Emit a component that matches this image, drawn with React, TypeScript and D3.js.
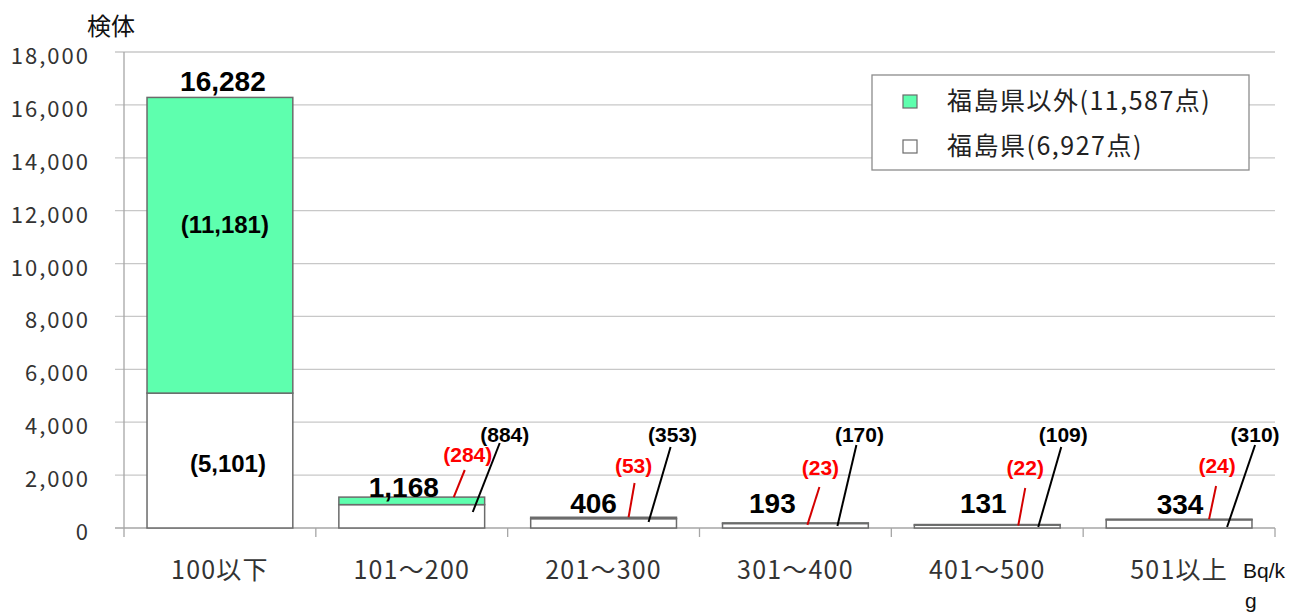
import React from "react";
import * as d3 from "d3";

// ---- data ----
const categories = ["100以下", "101～200", "201～300", "301～400", "401～500", "501以上"];
const fukushima = [5101, 884, 353, 170, 109, 310];
const otherPref = [11181, 284, 53, 23, 22, 24];
const yTicks = [0, 2000, 4000, 6000, 8000, 10000, 12000, 14000, 16000, 18000];
const legendLabels = ["福島県以外(11,587点)", "福島県(6,927点)"];
const yAxisTitle = "検体";
const unitLabel = ["Bq/k", "g"];

// ---- layout (pixel offsets for hand-placed annotations) ----
const totalDx = [3, -8, -10, -23, -4, 1];
const totalBase = [-6, 0, -15, -15, -15, -14]; // idx0,1 relative to bar top; others relative to y(0)
const redLead = [null, [42, 0, 53, -58], [25, 0, 31, -45], [12, 2, 24, -41], [31, 1, 38, -40], [30, 0, 37, -42]];
const redLab = [null, [56, -66], [30, -55], [25, -53], [38, -53], [38, -55]];
const blkLead = [null, [61, -16, 88, -85], [45, -6, 67, -81], [42, -2, 61, -83], [51, -1, 74, -81], [48, -1, 76, -83]];
const blkLab = [null, [93, -86], [69, -86], [64, -86], [76, -86], [76, -86]];

const W = 1309;
const H = 613;
const left = 124;
const right = 1275;
const top = 52;
const bottom = 528;
const GREEN = "#5effae";
const FONT = "'Noto Sans CJK JP', 'Noto Sans', sans-serif";
const BOLD = "'Liberation Sans', Arial, sans-serif";

export default function App() {
  const x = d3.scaleBand<string>().domain(categories).range([left, right]).paddingInner(0.24).paddingOuter(0.12);
  const y = d3.scaleLinear().domain([0, 18000]).range([bottom, top]);
  const step = x.step();
  const totals = categories.map((_, i) => fukushima[i] + otherPref[i]);
  const fmt = d3.format(",");

  return (
    <svg width={W} height={H} style={{ position: "absolute", left: 0, top: 0 }}>
      <rect x={0} y={0} width={W} height={H} fill="#fff" />
      {yTicks.map((t) => (
        <line key={"g" + t} x1={left - 9} x2={right} y1={y(t)} y2={y(t)} stroke={t === 0 ? "#a6a6a6" : "#c8c8c8"} strokeWidth={1.3} />
      ))}
      <line x1={left} x2={left} y1={y(18000)} y2={y(0)} stroke="#a6a6a6" strokeWidth={1.3} />
      {d3.range(categories.length + 1).map((i) => (
        <line key={"xt" + i} x1={left + i * step} x2={left + i * step} y1={y(0)} y2={y(0) + 9} stroke="#a6a6a6" strokeWidth={1.3} />
      ))}
      {yTicks.map((t) => (
        <text key={"yl" + t} x={90} y={y(t) + 2} textAnchor="end" dominantBaseline="central" fontFamily={FONT} fontSize={22} letterSpacing={2} fill="#333">
          {fmt(t)}
        </text>
      ))}
      <text x={111} y={35} textAnchor="middle" fontFamily={FONT} fontSize={24} fill="#111">{yAxisTitle}</text>
      {categories.map((c) => (
        <text key={"xl" + c} x={(x(c) as number) + x.bandwidth() / 2} y={579} textAnchor="middle" fontFamily={FONT} fontSize={25} letterSpacing={1.2} fill="#333">
          {c}
        </text>
      ))}
      <text x={1243} y={578} fontFamily={BOLD} fontSize={21} fill="#111">{unitLabel[0]}</text>
      <text x={1245} y={608} fontFamily={BOLD} fontSize={21} fill="#111">{unitLabel[1]}</text>
      {categories.map((c, i) => {
        const bx = x(c) as number;
        const bw = x.bandwidth();
        return (
          <g key={"b" + c}>
            <rect x={bx} y={y(fukushima[i])} width={bw} height={y(0) - y(fukushima[i])} fill="#fff" stroke="#6b6b6b" strokeWidth={1.5} />
            <rect x={bx} y={y(totals[i])} width={bw} height={y(fukushima[i]) - y(totals[i])} fill={GREEN} stroke="#6b6b6b" strokeWidth={1.5} />
          </g>
        );
      })}
      {categories.map((c, i) => {
        const cx = (x(c) as number) + x.bandwidth() / 2;
        const yt = y(totals[i]);
        const y0 = y(0);
        const tb = i < 2 ? yt + totalBase[i] : y0 + totalBase[i];
        const rl = redLead[i];
        const rlab = redLab[i];
        const bl = blkLead[i];
        const blab = blkLab[i];
        return (
          <g key={"a" + c}>
            <text x={cx + totalDx[i]} y={tb} textAnchor="middle" fontFamily={BOLD} fontWeight="bold" fontSize={28} fill="#000">
              {fmt(totals[i])}
            </text>
            {i === 0 && (
              <>
                <text x={cx + 5} y={233} textAnchor="middle" fontFamily={BOLD} fontWeight="bold" fontSize={24} fill="#000">
                  ({fmt(otherPref[i])})
                </text>
                <text x={cx + 8} y={472} textAnchor="middle" fontFamily={BOLD} fontWeight="bold" fontSize={24} fill="#000">
                  ({fmt(fukushima[i])})
                </text>
              </>
            )}
            {rl && rlab && (
              <>
                <line x1={cx + rl[0]} y1={yt + rl[1]} x2={cx + rl[2]} y2={y0 + rl[3]} stroke="#d40000" strokeWidth={2} />
                <text x={cx + rlab[0]} y={y0 + rlab[1]} textAnchor="middle" fontFamily={BOLD} fontWeight="bold" fontSize={21} fill="#ff0000">
                  ({fmt(otherPref[i])})
                </text>
              </>
            )}
            {bl && blab && (
              <>
                <line x1={cx + bl[0]} y1={y0 + bl[1]} x2={cx + bl[2]} y2={y0 + bl[3]} stroke="#000" strokeWidth={2} />
                <text x={cx + blab[0]} y={y0 + blab[1]} textAnchor="middle" fontFamily={BOLD} fontWeight="bold" fontSize={21} fill="#000">
                  ({fmt(fukushima[i])})
                </text>
              </>
            )}
          </g>
        );
      })}
      <rect x={872} y={75} width={377} height={95} fill="#fff" stroke="#8c8c8c" strokeWidth={1.3} />
      {legendLabels.map((l, i) => (
        <g key={"lg" + i}>
          <rect x={903} y={95 + i * 45} width={14} height={13} fill={i === 0 ? GREEN : "#fff"} stroke="#6b6b6b" strokeWidth={1.2} />
          <text x={947} y={110 + i * 45} fontFamily={FONT} fontSize={25} letterSpacing={1.5} fill="#222">{l}</text>
        </g>
      ))}
    </svg>
  );
}
